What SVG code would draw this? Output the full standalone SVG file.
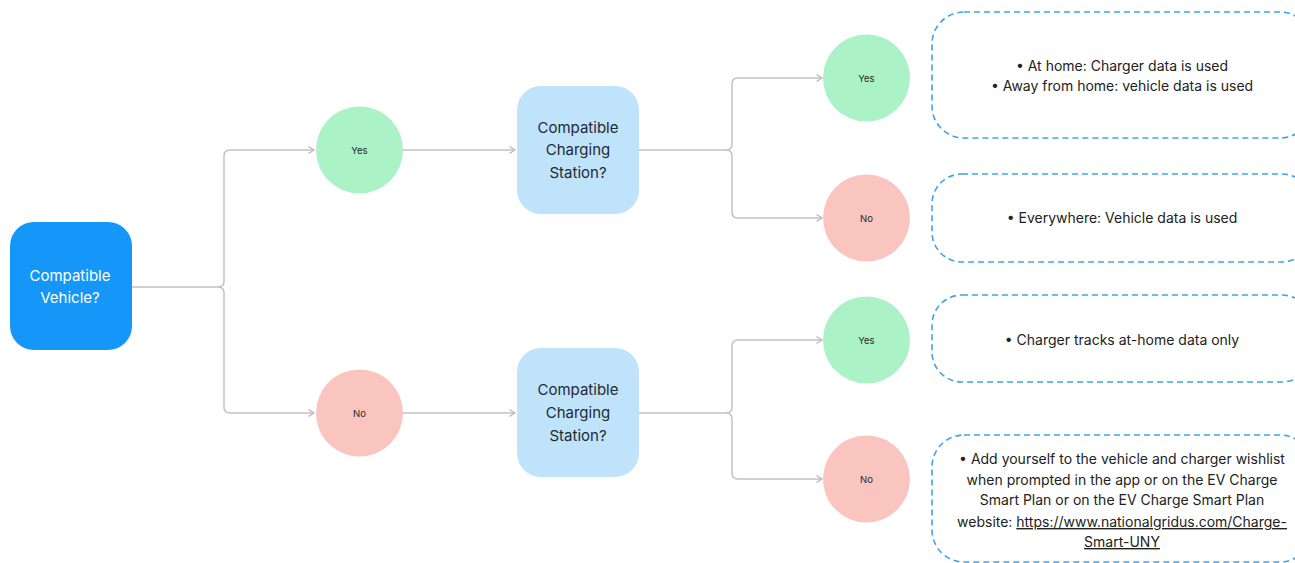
<svg xmlns="http://www.w3.org/2000/svg" width="1295" height="563" viewBox="0 0 1295 563">
  <defs>
    <marker id="arrow" markerWidth="10" markerHeight="10" refX="6" refY="4" orient="auto" markerUnits="userSpaceOnUse">
      <path d="M0.5,0.5 L6,4 L0.5,7.5" fill="none" stroke="#b8b8b8" stroke-width="1.2"/>
    </marker>
    <style>
      .conn { fill: none; stroke: #c2c2c2; stroke-width: 1.5; }
      .arr { marker-end: url(#arrow); }
      .t { font-family: Inter, "Liberation Sans", sans-serif; text-anchor: middle; }
      .q { font-size: 15px; fill: #1f2a33; }
      .qw { font-size: 15px; fill: #ffffff; }
      .lbl { font-size: 9.5px; fill: #2a2a2a; }
      .info { font-size: 14px; fill: #222222; }
      .yes { fill: #abf2c6; }
      .no { fill: #fbc5bf; }
      .station { fill: #bee3fb; }
      .note { fill: #ffffff; stroke: #3fa2ea; stroke-width: 1.6; stroke-dasharray: 6 4; }
      .link { text-decoration: underline; }
    </style>
  </defs>

  <rect width="1295" height="563" fill="#ffffff"/>

  <!-- connectors -->
  <g id="connectors">
    <path class="conn arr" d="M132,287 H218 Q224,287 224,281 V156 Q224,150 230,150 H314"/>
    <path class="conn arr" d="M218,287 Q224,287 224,293 V407 Q224,413 230,413 H314"/>
    <path class="conn arr" d="M403,150 H515"/>
    <path class="conn arr" d="M403,413 H515"/>
    <path class="conn arr" d="M639,150 H726 Q732,150 732,144 V84 Q732,78 738,78 H822"/>
    <path class="conn arr" d="M726,150 Q732,150 732,156 V212 Q732,218 738,218 H822"/>
    <path class="conn arr" d="M639,413 H726 Q732,413 732,407 V346 Q732,340 738,340 H822"/>
    <path class="conn arr" d="M726,413 Q732,413 732,419 V473 Q732,479 738,479 H822"/>
  </g>

  <!-- root question -->
  <g id="vehicle">
    <rect x="10" y="222" width="122" height="128" rx="24" fill="#1497f8"/>
    <text class="t qw" x="70" y="281">Compatible</text>
    <text class="t qw" x="70" y="303">Vehicle?</text>
  </g>

  <g id="vehicle-yes">
    <circle class="yes" cx="359.5" cy="150" r="43.5"/>
    <text class="t lbl" x="359.5" y="153.5">Yes</text>
  </g>
  <g id="vehicle-no">
    <circle class="no" cx="359.5" cy="413" r="43.5"/>
    <text class="t lbl" x="359.5" y="416.5">No</text>
  </g>

  <g id="station-a">
    <rect class="station" x="517" y="86" width="122" height="128" rx="24"/>
    <text class="t q" x="578" y="133">Compatible</text>
    <text class="t q" x="578" y="155">Charging</text>
    <text class="t q" x="578" y="178">Station?</text>
  </g>
  <g id="station-b">
    <rect class="station" x="517" y="348" width="122" height="129" rx="24"/>
    <text class="t q" x="578" y="395">Compatible</text>
    <text class="t q" x="578" y="418">Charging</text>
    <text class="t q" x="578" y="441">Station?</text>
  </g>

  <g id="a-yes">
    <circle class="yes" cx="866.5" cy="78" r="43.5"/>
    <text class="t lbl" x="866.5" y="81.5">Yes</text>
  </g>
  <g id="a-no">
    <circle class="no" cx="866.5" cy="218" r="43.5"/>
    <text class="t lbl" x="866.5" y="221.5">No</text>
  </g>
  <g id="b-yes">
    <circle class="yes" cx="866.5" cy="340" r="43.5"/>
    <text class="t lbl" x="866.5" y="343.5">Yes</text>
  </g>
  <g id="b-no">
    <circle class="no" cx="866.5" cy="479" r="43.5"/>
    <text class="t lbl" x="866.5" y="482.5">No</text>
  </g>

  <!-- outcome notes -->
  <g id="note-a-yes">
    <rect class="note" x="932" y="12" width="380" height="126" rx="32"/>
    <text class="t info" x="1122" y="71">• At home: Charger data is used</text>
    <text class="t info" x="1122" y="91">• Away from home: vehicle data is used</text>
  </g>
  <g id="note-a-no">
    <rect class="note" x="932" y="174" width="380" height="88" rx="30"/>
    <text class="t info" x="1122" y="223">• Everywhere: Vehicle data is used</text>
  </g>
  <g id="note-b-yes">
    <rect class="note" x="932" y="295" width="380" height="87" rx="30"/>
    <text class="t info" x="1122" y="345">• Charger tracks at-home data only</text>
  </g>
  <g id="note-b-no">
    <rect class="note" x="932" y="435" width="380" height="127" rx="32"/>
    <text class="t info" x="1122" y="464">• Add yourself to the vehicle and charger wishlist</text>
    <text class="t info" x="1122" y="485">when prompted in the app or on the EV Charge</text>
    <text class="t info" x="1122" y="505">Smart Plan or on the EV Charge Smart Plan</text>
    <text class="t info" x="1122" y="527">website: <tspan class="link">https://www.nationalgridus.com/Charge-</tspan></text>
    <text class="t info link" x="1122" y="547">Smart-UNY</text>
  </g>
</svg>
